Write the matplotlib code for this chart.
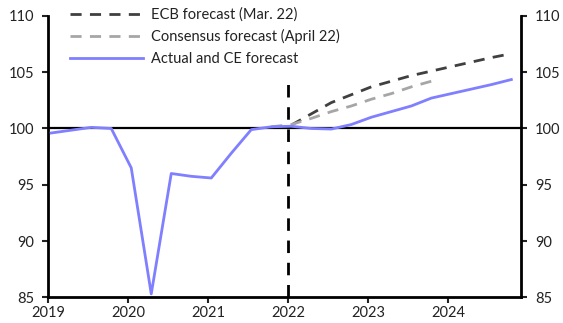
import matplotlib
matplotlib.use("Agg")
import matplotlib.pyplot as plt
from matplotlib.ticker import FixedLocator

plt.rcParams['font.family'] = ['Lato', 'DejaVu Sans']

# Quarterly GDP index (2019Q4 = 100)
actual_quarters = ["2019Q1", "2019Q2", "2019Q3", "2019Q4",
                   "2020Q1", "2020Q2", "2020Q3", "2020Q4",
                   "2021Q1", "2021Q2", "2021Q3", "2021Q4",
                   "2022Q1", "2022Q2", "2022Q3", "2022Q4",
                   "2023Q1", "2023Q2", "2023Q3", "2023Q4",
                   "2024Q1", "2024Q2", "2024Q3", "2024Q4"]
actual_values = [99.6, 99.85, 100.1, 100.0,
                 96.5, 85.3, 96.0, 95.75,
                 95.6, 97.8, 99.9, 100.15,
                 100.2, 100.0, 99.95, 100.35,
                 101.0, 101.5, 102.0, 102.7,
                 103.1, 103.5, 103.9, 104.35]

ecb_quarters = ["2022Q1", "2022Q2", "2022Q3", "2022Q4",
                "2023Q1", "2023Q2", "2023Q3", "2023Q4",
                "2024Q1", "2024Q2", "2024Q3", "2024Q4"]
ecb_values = [100.3, 101.3, 102.3, 103.0,
              103.7, 104.2, 104.7, 105.1,
              105.5, 105.9, 106.3, 106.65]

consensus_quarters = ["2021Q4", "2022Q1", "2022Q2", "2022Q3", "2022Q4",
                      "2023Q1", "2023Q2", "2023Q3", "2023Q4"]
consensus_values = [100.15, 100.35, 100.9, 101.5, 102.0,
                    102.6, 103.1, 103.7, 104.2]

year_ticks = [2019, 2020, 2021, 2022, 2023, 2024]
y_ticks = [85, 90, 95, 100, 105, 110]


def quarter_pos(label):
    year, q = label.split("Q")
    return int(year) + (int(q) - 1) * 0.25 + 0.04


fig = plt.figure(figsize=(5.63, 3.23), dpi=100)
ax = fig.add_axes([0.0853, 0.0796, 0.84, 0.871])

ax.axhline(100, color="black", lw=1.6, zorder=1)
ax.vlines(2022, 85, 104, colors="black", lw=2, linestyles=(0, (4.5, 3.5)), zorder=2)

ax.plot([quarter_pos(q) for q in ecb_quarters], ecb_values,
        color="#404040", lw=2, dashes=(4, 3), label="ECB forecast (Mar. 22)", zorder=3)
ax.plot([quarter_pos(q) for q in consensus_quarters], consensus_values,
        color="#a6a6a6", lw=2, dashes=(4, 3), label="Consensus forecast (April 22)", zorder=3)
ax.plot([quarter_pos(q) for q in actual_quarters], actual_values,
        color="#7f7fff", lw=2, label="Actual and CE forecast", zorder=4)

ax.set_xlim(2019, 2024.91)
ax.set_ylim(85, 110)
ax.xaxis.set_major_locator(FixedLocator(year_ticks))
ax.set_xticklabels([str(y) for y in year_ticks])
ax.yaxis.set_major_locator(FixedLocator(y_ticks))

for side in ["left", "right", "bottom"]:
    ax.spines[side].set_linewidth(2)
    ax.spines[side].set_color("black")
ax.spines["top"].set_visible(False)

ax.tick_params(axis="y", which="both", left=True, right=True, labelleft=True,
               labelright=True, direction="out", length=4, width=1.5,
               labelsize=10.5, pad=6, colors="#222222")
ax.tick_params(axis="x", direction="out", length=4, width=1.5,
               labelsize=10.5, pad=2, colors="#222222")

leg = ax.legend(loc="upper left", bbox_to_anchor=(0.035, 1.05), frameon=False,
                fontsize=10.5, handlelength=5.0, handletextpad=0.5,
                labelspacing=0.5, borderaxespad=0)
for t in leg.get_texts():
    t.set_color("#222222")

fig.savefig("out.png", dpi=100)
